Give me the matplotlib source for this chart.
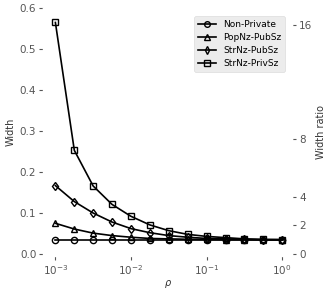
import matplotlib
matplotlib.use('Agg')
import matplotlib.pyplot as plt
import numpy as np

plt.style.use('ggplot')

rho = [1e-3, 1.78e-3, 3.16e-3, 5.62e-3, 1e-2, 1.78e-2, 3.16e-2, 5.62e-2,
       1e-1, 1.78e-1, 3.16e-1, 5.62e-1, 1.0]
non_private = [0.035] * 13
popnz_pubsz = [0.075, 0.061, 0.051, 0.045, 0.041, 0.038, 0.037, 0.036,
               0.0355, 0.035, 0.035, 0.035, 0.035]
strnz_pubsz = [0.167, 0.128, 0.100, 0.078, 0.062, 0.052, 0.045, 0.041,
               0.038, 0.037, 0.036, 0.035, 0.035]
strnz_privsz = [0.565, 0.253, 0.166, 0.121, 0.092, 0.071, 0.057, 0.048,
                0.043, 0.040, 0.037, 0.0355, 0.035]
ratio_ticks = [0, 2, 4, 8, 16]
base = 0.035

plt.rc('font', size=7)
fig, ax = plt.subplots(figsize=(3.33, 2.91), dpi=100)
fig.subplots_adjust(left=0.13, right=0.877, top=0.972, bottom=0.12)

kw = dict(color='black', lw=1.2, ms=4.5, mfc='none', mew=1.0)
ax.plot(rho, non_private, marker='o', label='Non-Private', **kw)
ax.plot(rho, popnz_pubsz, marker='^', label='PopNz-PubSz', **kw)
ax.plot(rho, strnz_pubsz, marker='d', label='StrNz-PubSz', **kw)
ax.plot(rho, strnz_privsz, marker='s', label='StrNz-PrivSz', **kw)

ax.set_xscale('log')
ax.set_xlim(10**-3.16, 10**0.13)
ax.set_ylim(-0.005, 0.6)
ax.set_xlabel(r'$\rho$', color='#333333', labelpad=1, fontsize=7)
ax.set_ylabel('Width', color='#333333', fontsize=7, labelpad=3)
ax.tick_params(labelsize=7.5, colors='#555555', length=3, pad=2)
ax.tick_params(axis='x', which='minor', length=0)

ax2 = ax.twinx()
ax2.set_ylim(-0.005 / base, 0.6 / base)
ax2.set_yticks(ratio_ticks)
ax2.set_ylabel('Width ratio', color='#333333', fontsize=7, labelpad=3)
ax2.tick_params(labelsize=7.5, colors='#555555', length=3, pad=2)
ax2.grid(True, color='white', lw=1.0)

leg = ax.legend(loc='upper right', fontsize=6.5, frameon=True, handlelength=2,
                labelspacing=0.45, borderpad=0.4, markerscale=0.9,
                bbox_to_anchor=(0.99, 0.985))
leg.get_frame().set_facecolor('#e8e8e8')
leg.get_frame().set_edgecolor('#d5d5d5')
ax.set_zorder(ax2.get_zorder() + 1)
ax.patch.set_visible(False)
ax2.set_facecolor('#e5e5e5')

fig.savefig('out.png', dpi=100)
